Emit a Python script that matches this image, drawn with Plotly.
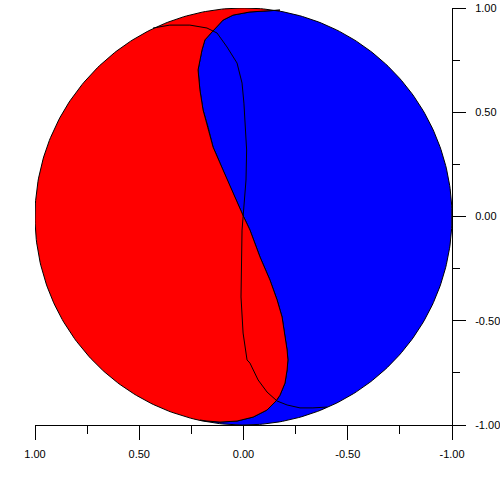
import numpy as np
import plotly.graph_objects as go

# boundary between the two regions, top to bottom
s_x = [-0.175, -0.031, 0.050, 0.098, 0.151, 0.185, 0.199, 0.218, 0.209, 0.194,
       0.170, 0.146, 0.113, 0.079, 0.000, -0.031, -0.079, -0.127, -0.161, -0.185,
       -0.199, -0.209, -0.213, -0.209, -0.199, -0.175, -0.156, -0.113, -0.046,
       0.031, 0.113, 0.175, 0.209]
s_y = [0.990, 0.981, 0.966, 0.942, 0.885, 0.847, 0.799, 0.703, 0.607, 0.511,
       0.429, 0.333, 0.257, 0.175, 0.000, -0.065, -0.194, -0.305, -0.400, -0.482,
       -0.578, -0.640, -0.688, -0.736, -0.799, -0.857, -0.885, -0.928, -0.962,
       -0.981, -0.986, -0.981, -0.976]

# thin nodal line
n_x = [0.434, 0.353, 0.257, 0.175, 0.127, 0.079, 0.031, 0.007, -0.002, -0.007,
       -0.015, -0.012, 0.002, 0.007, 0.012, 0.002, -0.017, -0.031, -0.070, -0.113,
       -0.161, -0.209, -0.271, -0.333, -0.400]
n_y = [0.904, 0.918, 0.918, 0.904, 0.880, 0.813, 0.736, 0.640, 0.544, 0.429,
       0.319, 0.175, 0.007, -0.065, -0.386, -0.559, -0.688, -0.703, -0.784, -0.842,
       -0.885, -0.904, -0.918, -0.918, -0.914]

tick_vals = [1.0, 0.5, 0.0, -0.5, -1.0]


def arc(a0, a1, n=200):
    t = np.radians(np.linspace(a0, a1, n))
    return np.cos(t), np.sin(t)


a_top = np.degrees(np.arctan2(s_y[0], s_x[0]))
a_bot = np.degrees(np.arctan2(s_y[-1], s_x[-1]))

# red: left arc then back up the boundary
rx, ry = arc(a_top, a_bot)
red_x = np.concatenate([rx, s_x[::-1]])
red_y = np.concatenate([ry, s_y[::-1]])

# blue: boundary down, then the right arc back to the top
bx, by = arc(a_bot, a_top - 360)
blue_x = np.concatenate([s_x, bx])
blue_y = np.concatenate([s_y, by])

fig = go.Figure()
fig.add_trace(go.Scatter(x=blue_x, y=blue_y, fill="toself", fillcolor="#0000ff",
                         mode="lines", line=dict(color="black", width=1)))
fig.add_trace(go.Scatter(x=red_x, y=red_y, fill="toself", fillcolor="#ff0000",
                         mode="lines", line=dict(color="black", width=1)))
fig.add_trace(go.Scatter(x=n_x, y=n_y, mode="lines",
                         line=dict(color="black", width=1)))

axis = dict(showgrid=False, zeroline=False, showline=True, automargin=False,
            linecolor="black", linewidth=1, ticks="outside", tickcolor="black",
            tickvals=tick_vals, ticktext=[f"{v:.2f}" for v in tick_vals],
            tickfont=dict(family="Liberation Sans", size=11, color="black"),
            ticklabeloverflow="allow",
            minor=dict(dtick=0.25, tick0=0, ticks="outside", ticklen=8,
                       tickcolor="black", showgrid=False))

fig.update_xaxes(**axis)
fig.update_xaxes(range=[1, -1], ticklen=14, ticklabelstandoff=5)
fig.update_yaxes(**axis)
fig.update_yaxes(range=[-1, 1], ticklen=13, side="right", minor_ticklen=7,
                 ticklabelstandoff=7)

fig.update_layout(
    width=500, height=500,
    margin=dict(l=35, r=48, t=8, b=75),
    plot_bgcolor="white", paper_bgcolor="white",
    showlegend=False,
)
# drop the default body margin so the 500px figure fills the window
fig.write_html("out.html", config={"displayModeBar": False},
               post_script="document.body.style.margin='0';")
